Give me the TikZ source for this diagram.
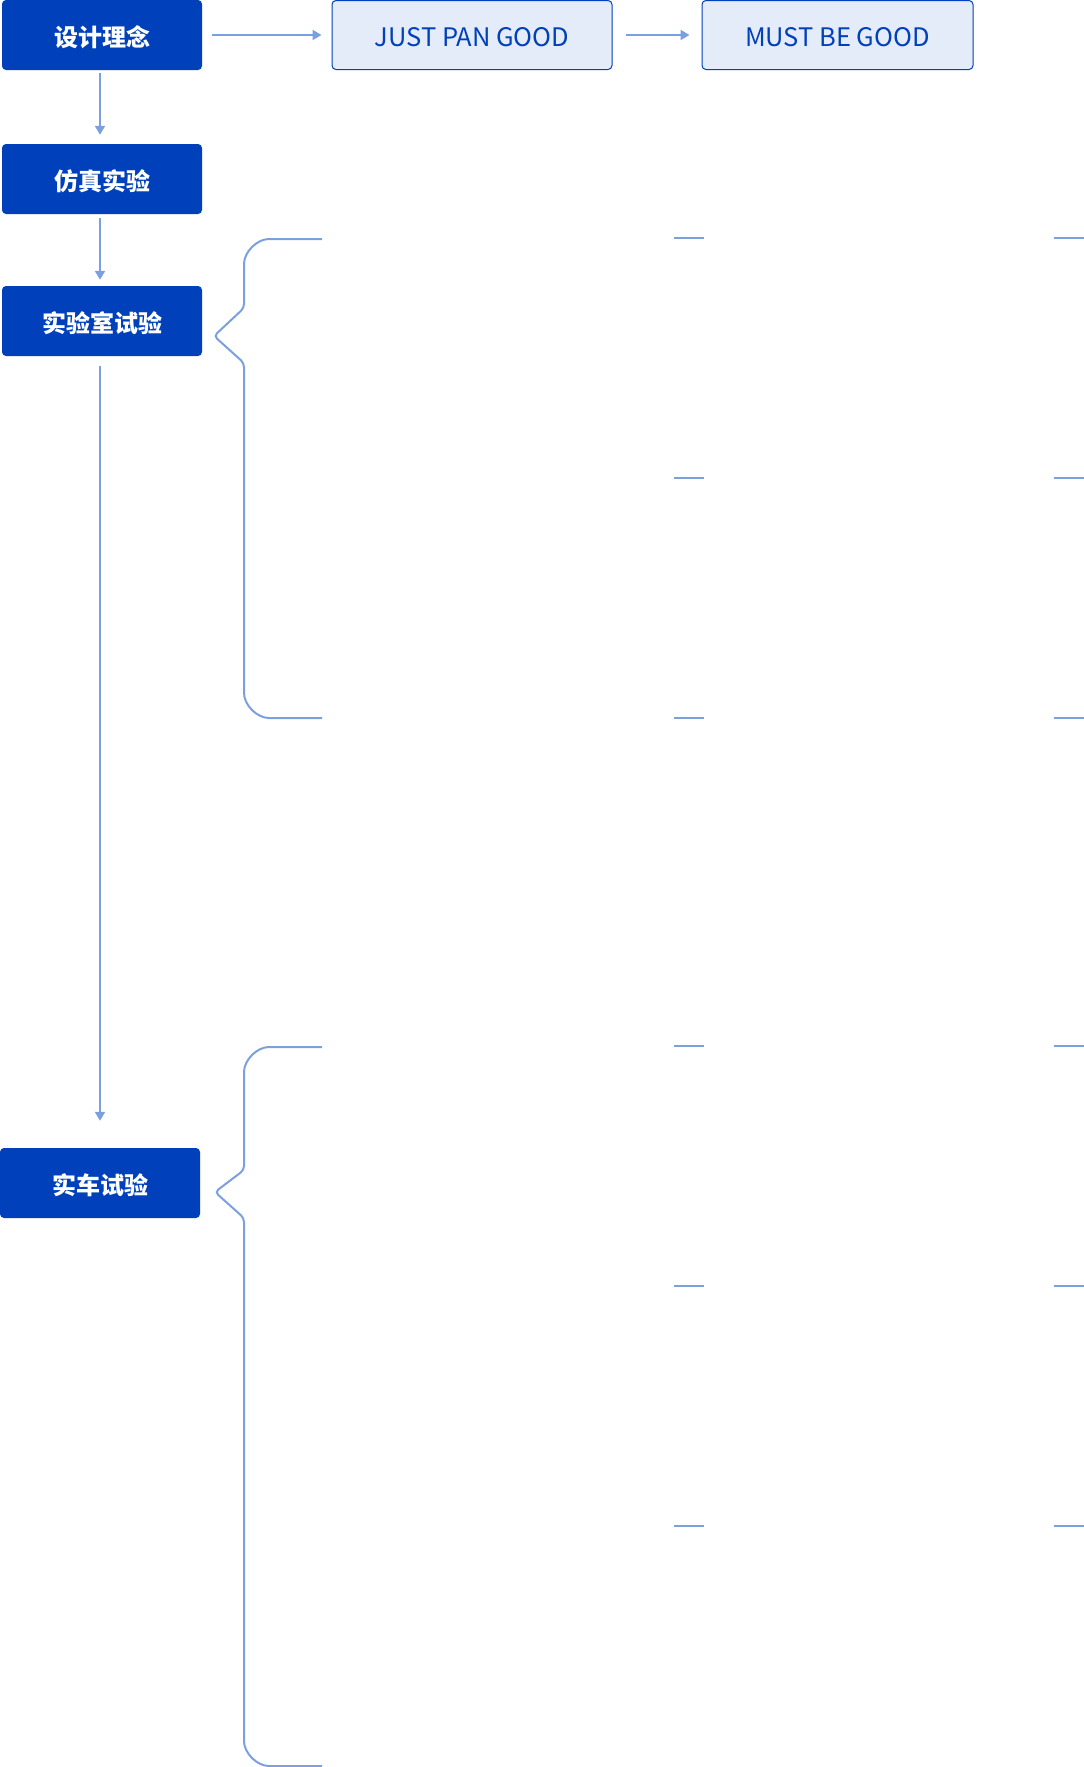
\documentclass[tikz,border=0pt]{standalone}
\usepackage{fontspec}
\setmainfont{Noto Sans CJK SC}
\usetikzlibrary{arrows.meta}
\definecolor{dkblue}{HTML}{0040BB}
\definecolor{lnblue}{HTML}{7C9FE0}
\definecolor{ltfill}{HTML}{E5ECF9}
\newcommand{\lowertxt}[1]{\raisebox{-2.5pt}[\height][\depth]{#1}}
\tikzset{
  darkbox/.style={draw=none, fill=dkblue, rounded corners=4pt, minimum width=200pt, minimum height=70pt, inner sep=0pt, text=white, font=\fontsize{24pt}{28pt}\selectfont\bfseries},
  lightbox/.style={draw=dkblue, line width=1pt, fill=ltfill, rounded corners=4pt, minimum height=69pt, inner sep=0pt, text=dkblue, font=\fontsize{25.5pt}{30pt}\selectfont},
  flow/.style={draw=lnblue, line width=2pt, -{Triangle[length=9pt,width=10pt]}},
  bracepath/.style={draw=lnblue, line width=2pt, rounded corners=4pt},
  tick/.style={draw=lnblue, line width=2pt}
}
\begin{document}
\begin{tikzpicture}[x=1pt,y=1pt]
\useasboundingbox (0,0) rectangle (1084,-1767);
\node[darkbox] (b1) at (102,-35) {\lowertxt{设计理念}};
\node[darkbox] (b2) at (102,-179) {\lowertxt{仿真实验}};
\node[darkbox] (b3) at (102,-321) {\lowertxt{实验室试验}};
\node[darkbox] (b4) at (100,-1183) {\lowertxt{实车试验}};
\node[lightbox, minimum width=280pt] (j) at (472,-35) {\lowertxt{JUST PAN GOOD}};
\node[lightbox, minimum width=271pt] (m) at (837.5,-35) {\lowertxt{MUST BE GOOD}};
\draw[flow] ([xshift=10pt]b1.east) -- ([xshift=-10pt]j.west);
\draw[flow] ([xshift=13pt]j.east) -- ([xshift=-12pt]m.west);
\draw[flow] ([xshift=-2pt,yshift=-3pt]b1.south) -- ([xshift=-2pt,yshift=9pt]b2.north);
\draw[flow] ([xshift=-2pt,yshift=-4pt]b2.south) -- ([xshift=-2pt,yshift=6pt]b3.north);
\draw[flow] ([xshift=-2pt,yshift=-10pt]b3.south) -- ([yshift=27pt]b4.north);
% braces
\draw[bracepath] (322,-239) -- (273,-239) arc[start angle=90,end angle=180,radius=29]
  -- (244,-308) -- (214,-336) -- (244,-363) -- (244,-689)
  arc[start angle=180,end angle=270,radius=29] -- (322,-718);
\draw[bracepath] (322,-1047) -- (273,-1047) arc[start angle=90,end angle=180,radius=29]
  -- (244,-1170) -- (215,-1192) -- (244,-1218) -- (244,-1737)
  arc[start angle=180,end angle=270,radius=29] -- (322,-1766);
% ticks
\foreach \yy in {238,478,718,1046,1286,1526}{
  \draw[tick] (674,-\yy) -- (704,-\yy);
  \draw[tick] (1054,-\yy) -- (1084,-\yy);
}
\end{tikzpicture}
\end{document}
